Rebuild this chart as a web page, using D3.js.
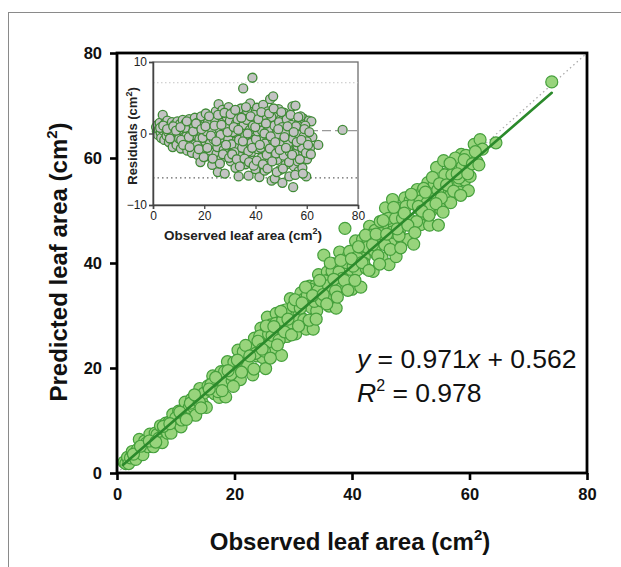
<!DOCTYPE html>
<html>
<head>
<meta charset="utf-8">
<script src="https://cdn.jsdelivr.net/npm/d3@7"></script>
<style>
  body { margin: 0; background: #fff; }
  svg { display: block; font-family: Arial, "Liberation Sans", sans-serif; }
</style>
</head>
<body>
<svg id="chart" width="621" height="567"></svg>
<script>
// observed leaf area (cm2) and residuals (predicted - observed)
var observed = [
  1.2,1.5,1.8,2.0,2.3,2.6,3.0,3.2,3.5,3.8,4.1,4.4,4.7,5.0,
  5.3,5.6,5.9,6.2,6.5,6.8,7.1,7.4,7.7,8.0,8.3,8.6,8.9,9.2,9.5,9.8,
  10.2,10.5,10.9,11.2,11.6,12.0,12.3,12.7,13.0,13.4,13.7,14.1,14.5,14.8,
  15.2,15.5,15.9,16.3,16.6,17.0,17.4,17.7,18.1,18.5,18.8,19.2,19.6,19.9,
  20.3,20.6,21.0,21.3,21.7,22.0,22.4,22.7,23.1,23.4,23.8,24.1,24.5,24.8,25.0,25.3,25.6,
  25.9,26.2,26.5,26.8,27.1,27.4,27.7,28.0,28.3,28.6,28.9,29.2,29.5,29.8,
  30.1,30.4,30.7,31.0,31.3,31.6,31.9,32.2,32.5,32.8,33.1,33.4,33.7,34.0,34.3,34.6,34.9,
  35.2,35.5,35.8,36.1,36.4,36.7,37.0,37.3,37.6,37.9,38.2,38.5,38.8,39.1,39.4,39.7,
  40.0,40.3,40.6,40.9,41.2,41.5,41.8,42.1,42.4,42.7,43.0,43.3,43.6,43.9,44.2,44.5,44.8,
  45.1,45.4,45.7,46.0,46.3,46.6,46.9,47.2,47.5,47.8,48.1,48.4,48.7,49.0,49.3,49.6,49.9,
  50.2,50.5,50.8,51.1,51.4,51.7,52.0,52.3,52.6,52.9,53.2,53.5,53.8,54.1,54.4,54.7,55.0,
  55.3,55.6,55.9,56.2,56.5,56.8,57.1,57.4,57.7,58.0,58.3,58.6,58.9,59.2,59.5,59.8,
  60.1,60.4,60.8,61.3,61.8,62.2,64.5,74.0,
  10.0,11.0,12.5,14.0,16.0,17.2,18.3,19.4,20.8,21.5,22.2,23.0,23.6,24.3,25.1,25.8,
  26.4,27.0,27.6,28.2,28.8,29.4,30.0,30.6,31.2,31.8,32.4,33.0,33.6,34.2,34.8,35.4,
  36.0,36.6,37.2,37.8,38.4,39.0,39.6,40.2,40.8,41.4,42.0,42.6,43.2,43.8,44.4,45.0,
  45.6,46.2,46.8,47.4,48.0,48.6,49.2,49.8,50.4,51.0,51.6,52.2,52.8,53.4,54.0,54.6,
  55.2,55.8,56.4,57.0,57.6,58.2,58.8,59.4,60.0,
  2.8,4.0,5.5,6.6,7.9,9.0,10.7,11.8,13.2,14.3,15.7,16.8,17.9,18.9,19.8,20.5,
  21.2,21.9,22.6,23.3,24.0,24.7,25.4,26.1,26.7,27.3,27.9,28.5,29.1,29.7,30.3,30.9,
  31.5,32.1,32.7,33.3,33.9,34.5,35.1,35.7,36.3,36.9,37.5,38.1,38.7,39.3,39.9,40.5,
  41.1,41.7,42.3,42.9,43.5,44.1,44.7,45.3,45.9,46.5,47.1,47.7,48.3,48.9,49.5,50.1,
  50.7,51.3,51.9,52.5,53.1,53.7,54.3,54.9,55.5,56.1,56.7,57.3,57.9,58.5,59.1,59.7,
  60.5,61.0,61.6
];
var residual = [
  0.9,0.3,1.2,-0.2,0.6,1.5,0.1,-0.6,1.0,2.6,0.4,-0.9,1.4,0.7,
  -0.3,1.8,0.2,-1.2,1.1,0.5,-0.5,1.6,-1.9,0.3,1.2,-1.0,0.8,-1.6,1.7,0.0,
  -0.7,1.3,-2.1,0.6,1.9,-1.3,0.2,1.4,-0.4,-2.4,0.9,2.0,-1.1,0.4,
  -2.7,1.1,-0.2,2.2,-1.5,0.7,-3.0,1.6,-0.8,-4.0,2.4,0.1,-2.0,1.2,
  -1.1,2.8,-3.2,0.5,-0.6,1.9,-2.4,0.9,-4.4,2.3,-1.5,0.2,3.1,-2.8,1.4,-5.4,4.1,
  -0.9,2.0,-3.6,0.4,3.3,-1.8,1.1,-5.6,2.6,-0.3,-2.9,1.7,3.7,-1.2,
  0.6,-3.9,2.2,-0.7,3.0,-2.3,1.3,-4.8,0.0,2.8,-1.6,-6.0,1.9,-3.1,3.5,-0.4,1.0,
  6.3,-2.1,2.5,-4.3,0.8,3.2,-1.3,-5.9,1.5,4.2,-2.7,0.3,7.8,-3.8,2.0,-0.9,
  -5.0,1.2,3.6,-2.2,0.5,-6.1,2.7,-1.0,-3.4,1.8,4.0,-0.5,-5.2,2.3,-2.6,0.9,3.1,
  -4.1,-1.3,4.8,1.5,-6.6,-2.9,5.2,0.1,-6.3,2.6,-1.8,-3.7,1.0,3.4,-0.6,-5.1,2.0,
  -2.4,-6.9,0.7,2.9,-1.1,-4.4,1.6,-2.9,-0.2,2.4,-6.0,-3.5,0.5,-1.7,3.8,-7.5,-4.6,
  -1.0,3.9,-2.2,0.9,-3.9,-5.3,1.8,-1.4,-2.9,0.3,-4.8,2.1,-0.8,-3.4,-1.9,-6.0,
  -3.6,-0.4,1.8,-2.0,1.7,-0.5,-1.6,0.5,
  0.5,-0.9,0.8,-0.5,0.9,-1.7,1.0,-0.6,0.3,1.6,-1.4,0.6,-0.8,1.8,-1.9,0.7,
  -0.2,1.5,-2.3,0.9,2.3,-0.8,1.8,-1.5,0.2,-2.6,1.4,2.0,-0.9,0.6,-2.0,1.2,
  -0.3,1.9,-2.5,0.5,-1.3,1.1,2.6,-0.8,0.3,1.6,-2.0,0.4,2.1,-1.4,-3.0,0.6,
  -2.1,2.3,-0.9,1.1,-2.8,-0.1,1.6,-1.5,0.9,-3.1,0.2,2.0,-1.3,-2.6,1.2,-0.7,
  -2.8,1.0,-1.7,-0.2,2.4,-2.0,-0.4,1.1,-1.1,
  0.8,1.1,0.6,-0.7,1.0,0.4,0.9,-1.6,1.7,-1.9,0.3,1.4,-2.2,0.6,-3.3,1.0,
  -2.0,2.4,-0.3,-3.5,1.1,-1.1,2.6,-4.2,1.2,-2.9,2.9,-1.6,0.2,-3.4,2.7,-2.9,
  0.9,3.3,-3.6,0.5,-4.6,2.2,-1.1,-3.5,3.7,0.0,-4.0,2.4,-2.0,-4.5,0.9,-3.8,
  2.0,-1.6,3.0,-4.3,0.0,1.4,-4.9,2.8,-0.4,-3.9,3.5,-1.2,-5.4,0.6,-2.3,3.0,
  -4.9,-0.5,-2.0,1.0,-4.0,2.6,-3.0,0.2,-5.8,-1.2,2.3,-3.6,-0.9,-5.6,0.6,-2.7,
  -1.6,0.2,-2.9
];

var fitSlope = 0.971, fitIntercept = 0.562, rSquared = 0.978;
var fitRange = [1, 74];
var mainTicks = [0, 20, 40, 60, 80];
var insetXTicks = [0, 20, 40, 60, 80];
var insetYTicks = [-10, 0, 10];
var residualMean = 0.4, upperLimit = 7.1, lowerLimit = -6.2;

var points = observed.map(function(d, i) {
  return { obs: d, res: residual[i], pred: d + residual[i] };
});

var svg = d3.select("#chart");

// outer frame
svg.append("rect")
  .attr("x", 8.5).attr("y", 12.5)
  .attr("width", 640).attr("height", 600)
  .attr("fill", "none")
  .attr("stroke", "#8a8a8a")
  .attr("stroke-width", 1);

// ---- main plot ----
var x = d3.scaleLinear().domain([0, 80]).range([117, 587]);
var y = d3.scaleLinear().domain([0, 80]).range([473, 53]);

var main = svg.append("g").attr("class", "main");

// 1:1 line
main.append("line")
  .attr("x1", x(0)).attr("y1", y(0))
  .attr("x2", x(80)).attr("y2", y(80))
  .attr("stroke", "#aaa")
  .attr("stroke-width", 1.2)
  .attr("stroke-dasharray", "1.5,3");

main.selectAll(".pt")
  .data(points)
  .enter()
  .append("circle")
  .attr("class", "pt")
  .attr("cx", function(d) { return x(d.obs); })
  .attr("cy", function(d) { return y(d.pred); })
  .attr("r", 6)
  .attr("fill", "#98d47c")
  .attr("stroke", "#45a03c")
  .attr("stroke-width", 1.2);

// regression line
main.append("line")
  .attr("x1", x(fitRange[0])).attr("y1", y(fitSlope * fitRange[0] + fitIntercept))
  .attr("x2", x(fitRange[1])).attr("y2", y(fitSlope * fitRange[1] + fitIntercept))
  .attr("stroke", "#2b8a2b")
  .attr("stroke-width", 2.6)
  .attr("stroke-linecap", "round");

// frame of plot
main.append("rect")
  .attr("x", x(0)).attr("y", y(80))
  .attr("width", x(80) - x(0)).attr("height", y(0) - y(80))
  .attr("fill", "none")
  .attr("stroke", "#000")
  .attr("stroke-width", 2.8);

var xAxis = main.append("g")
  .attr("class", "x axis")
  .attr("transform", "translate(0," + y(0) + ")")
  .call(d3.axisBottom(x).tickValues(mainTicks).tickSize(7).tickPadding(8));
var yAxis = main.append("g")
  .attr("class", "y axis")
  .attr("transform", "translate(" + x(0) + ",0)")
  .call(d3.axisLeft(y).tickValues(mainTicks).tickSize(7).tickPadding(8));

[xAxis, yAxis].forEach(function(a) {
  a.select(".domain").remove();
  a.selectAll(".tick line").attr("stroke", "#000").attr("stroke-width", 2.6);
  a.selectAll(".tick text")
    .attr("fill", "#111")
    .style("font-size", "16.5px")
    .style("font-weight", "bold")
    .style("font-family", "Arial, 'Liberation Sans', sans-serif");
});

// axis titles
var xTitle = svg.append("text")
  .attr("x", 350).attr("y", 550)
  .attr("text-anchor", "middle")
  .style("font-size", "24px").style("font-weight", "bold").attr("fill", "#111");
xTitle.append("tspan").text("Observed leaf area (cm");
xTitle.append("tspan").text("2").style("font-size", "15px").attr("dy", -10);
xTitle.append("tspan").text(")").attr("dy", 10);

var yTitle = svg.append("text")
  .attr("transform", "translate(67,262) rotate(-90)")
  .attr("text-anchor", "middle")
  .style("font-size", "24px").style("font-weight", "bold").attr("fill", "#111");
yTitle.append("tspan").text("Predicted leaf area (cm");
yTitle.append("tspan").text("2").style("font-size", "15px").attr("dy", -10);
yTitle.append("tspan").text(")").attr("dy", 10);

// equation
var eq1 = svg.append("text")
  .attr("x", 357).attr("y", 368)
  .style("font-size", "26.5px").attr("fill", "#111");
eq1.append("tspan").text("y").style("font-style", "italic");
eq1.append("tspan").text(" = " + fitSlope.toFixed(3));
eq1.append("tspan").text("x").style("font-style", "italic");
eq1.append("tspan").text(" + " + fitIntercept.toFixed(3));

var eq2 = svg.append("text")
  .attr("x", 357).attr("y", 402)
  .style("font-size", "26.5px").attr("fill", "#111");
eq2.append("tspan").text("R").style("font-style", "italic");
eq2.append("tspan").text("2").style("font-size", "16px").attr("dy", -11);
eq2.append("tspan").text(" = " + rSquared.toFixed(3)).attr("dy", 11);

// ---- inset residual plot ----
var ix = d3.scaleLinear().domain([0, 80]).range([153, 358]);
var iy = d3.scaleLinear().domain([-10, 10]).range([205, 62]);

var inset = svg.append("g").attr("class", "inset");

inset.append("rect")
  .attr("x", ix(0)).attr("y", iy(10))
  .attr("width", ix(80) - ix(0)).attr("height", iy(-10) - iy(10))
  .attr("fill", "#fff")
  .attr("stroke", "#6e6e6e")
  .attr("stroke-width", 1.3);

inset.append("line")
  .attr("x1", ix(0)).attr("x2", ix(80))
  .attr("y1", iy(upperLimit)).attr("y2", iy(upperLimit))
  .attr("stroke", "#c4c4c4").attr("stroke-width", 1)
  .attr("stroke-dasharray", "1.5,2.5");
inset.append("line")
  .attr("x1", ix(0)).attr("x2", ix(80))
  .attr("y1", iy(lowerLimit)).attr("y2", iy(lowerLimit))
  .attr("stroke", "#666").attr("stroke-width", 1.3)
  .attr("stroke-dasharray", "1.5,3");
inset.append("line")
  .attr("x1", ix(0)).attr("x2", ix(80))
  .attr("y1", iy(residualMean)).attr("y2", iy(residualMean))
  .attr("stroke", "#999").attr("stroke-width", 1.2)
  .attr("stroke-dasharray", "9,4");

inset.selectAll(".rp")
  .data(points)
  .enter()
  .append("circle")
  .attr("class", "rp")
  .attr("cx", function(d) { return ix(d.obs); })
  .attr("cy", function(d) { return iy(d.res); })
  .attr("r", 4.5)
  .attr("fill", "#c3c3c3")
  .attr("stroke", "#3f8a36")
  .attr("stroke-width", 1.3);

var ixAxis = inset.append("g")
  .attr("transform", "translate(0," + iy(-10) + ")")
  .call(d3.axisBottom(ix).tickValues(insetXTicks).tickSize(4).tickPadding(2));
var iyAxis = inset.append("g")
  .attr("transform", "translate(" + ix(0) + ",0)")
  .call(d3.axisLeft(iy).tickValues(insetYTicks).tickSize(4).tickPadding(2));

[ixAxis, iyAxis].forEach(function(a) {
  a.select(".domain").attr("stroke", "#444").attr("stroke-width", 1.5);
  a.selectAll(".tick line").attr("stroke", "#444").attr("stroke-width", 1.3);
  a.selectAll(".tick text")
    .attr("fill", "#222")
    .style("font-size", "12px")
    .style("font-family", "Arial, 'Liberation Sans', sans-serif");
});

var ixTitle = svg.append("text")
  .attr("x", 243).attr("y", 240)
  .attr("text-anchor", "middle")
  .style("font-size", "13.5px").style("font-weight", "bold").attr("fill", "#222");
ixTitle.append("tspan").text("Observed leaf area (cm");
ixTitle.append("tspan").text("2").style("font-size", "9px").attr("dy", -6);
ixTitle.append("tspan").text(")").attr("dy", 6);

var iyTitle = svg.append("text")
  .attr("transform", "translate(137,136) rotate(-90)")
  .attr("text-anchor", "middle")
  .style("font-size", "13px").style("font-weight", "bold").attr("fill", "#222");
iyTitle.append("tspan").text("Residuals (cm");
iyTitle.append("tspan").text("2").style("font-size", "9px").attr("dy", -5);
iyTitle.append("tspan").text(")").attr("dy", 5);
</script>
</body>
</html>
